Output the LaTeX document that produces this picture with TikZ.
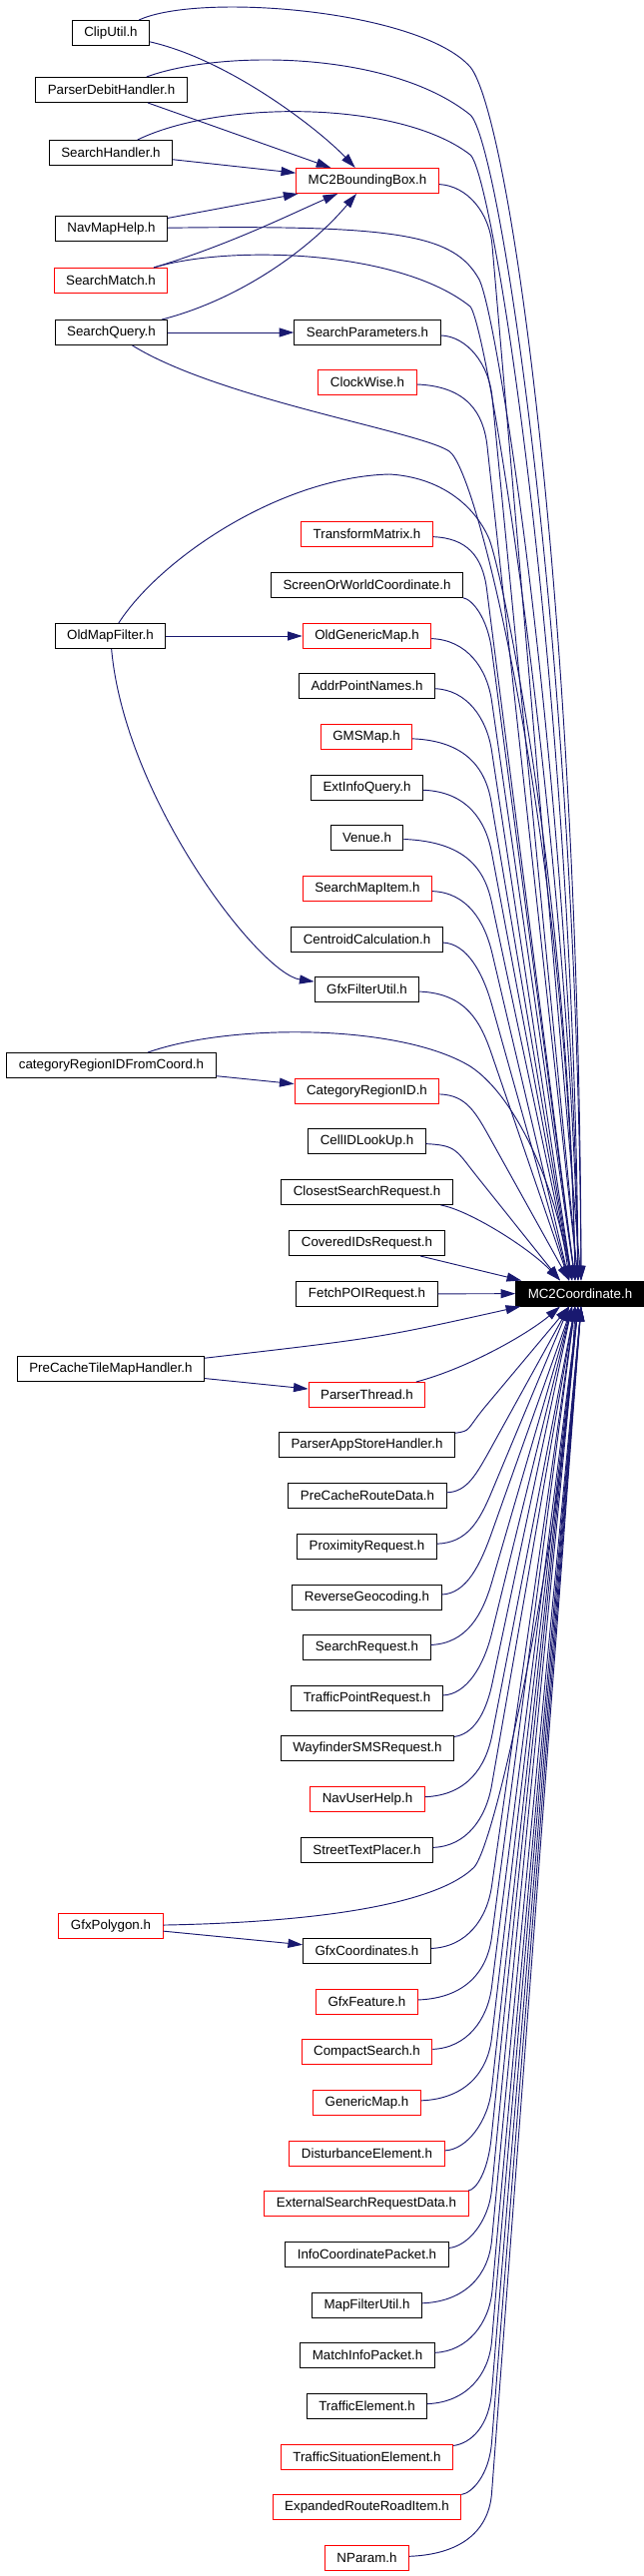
\documentclass[tikz,border=0pt]{standalone}
\usepackage{fontspec}
\setmainfont{Liberation Sans}
\usetikzlibrary{arrows.meta,calc}
\definecolor{navy}{RGB}{25,25,112}
\tikzset{
  box/.style={draw=black, line width=0.75pt, minimum height=18.75pt, inner xsep=9pt, inner ysep=0pt, fill=white, font=\fontsize{10pt}{12pt}\selectfont},
  rbox/.style={box, draw=red},
  kbox/.style={box, fill=black, text=white},
  edge/.style={draw=navy, line width=0.7pt, -{Triangle[length=11pt,width=6.75pt]}},
}
\newcommand\mcedge[6]{%
  \coordinate (#1-b) at ($(#1)+(#5,#6)$);
  \draw[edge] (#1) .. controls ($(#1)+(#3,#4)$) and ($(#1-b)!-25pt!(#2)$) .. (#1-b) -- (#2);
}
\begin{document}
\begin{tikzpicture}[x=0.75pt,y=-0.75pt]
\useasboundingbox (0,0) rectangle (645,2580);
% left column
\node[box]  (clip) at (111,33)   {ClipUtil.h};
\node[box]  (pdh)  at (111.5,90) {ParserDebitHandler.h};
\node[box]  (sh)   at (111,153)  {SearchHandler.h};
\node[box]  (nmh)  at (111.5,229) {NavMapHelp.h};
\node[rbox] (sm)   at (111,281)  {SearchMatch.h};
\node[box]  (sq)   at (111.5,333) {SearchQuery.h};
\node[box]  (omf)  at (110.5,637) {OldMapFilter.h};
\node[box]  (crf)  at (111.5,1067) {categoryRegionIDFromCoord.h};
\node[box]  (pct)  at (111,1371) {PreCacheTileMapHandler.h};
\node[rbox] (gpol) at (111,1929) {GfxPolygon.h};
% middle column
\node[rbox] (mbb)  at (368,181)  {MC2BoundingBox.h};
\node[box]  (spar) at (368,333)  {SearchParameters.h};
\node[rbox] (clw)  at (368,383)  {ClockWise.h};
\node[rbox] (tfm)  at (367.5,535) {TransformMatrix.h};
\node[box]  (sow)  at (367.5,586) {ScreenOrWorldCoordinate.h};
\node[rbox] (ogm)  at (367.5,637) {OldGenericMap.h};
\node[box]  (apn)  at (367.5,687) {AddrPointNames.h};
\node[rbox] (gms)  at (367,738)  {GMSMap.h};
\node[box]  (eiq)  at (367.5,789) {ExtInfoQuery.h};
\node[box]  (ven)  at (367.5,839) {Venue.h};
\node[rbox] (smi)  at (368,890)  {SearchMapItem.h};
\node[box]  (cen)  at (367.5,941) {CentroidCalculation.h};
\node[box]  (gfu)  at (367.5,991) {GfxFilterUtil.h};
\node[rbox] (crid) at (367.5,1093) {CategoryRegionID.h};
\node[box]  (cid)  at (367.5,1143) {CellIDLookUp.h};
\node[box]  (csr)  at (367.5,1194) {ClosestSearchRequest.h};
\node[box]  (cov)  at (367.5,1245) {CoveredIDsRequest.h};
\node[box]  (fpr)  at (367.5,1296) {FetchPOIRequest.h};
\node[rbox] (pth)  at (367.5,1397) {ParserThread.h};
\node[box]  (pas)  at (367.5,1447) {ParserAppStoreHandler.h};
\node[box]  (pcr)  at (368,1498) {PreCacheRouteData.h};
\node[box]  (prx)  at (367.5,1549) {ProximityRequest.h};
\node[box]  (rgc)  at (367.5,1600) {ReverseGeocoding.h};
\node[box]  (srq)  at (367.5,1650) {SearchRequest.h};
\node[box]  (tpr)  at (367.5,1701) {TrafficPointRequest.h};
\node[box]  (wsr)  at (368,1751) {WayfinderSMSRequest.h};
\node[rbox] (nuh)  at (368,1802) {NavUserHelp.h};
\node[box]  (stp)  at (367.5,1853) {StreetTextPlacer.h};
\node[box]  (gco)  at (367.5,1954) {GfxCoordinates.h};
\node[rbox] (gft)  at (367.5,2005) {GfxFeature.h};
\node[rbox] (cps)  at (367.5,2055) {CompactSearch.h};
\node[rbox] (gmp)  at (367.5,2106) {GenericMap.h};
\node[rbox] (dst)  at (367.5,2157) {DisturbanceElement.h};
\node[rbox] (esr)  at (367,2207) {ExternalSearchRequestData.h};
\node[box]  (icp)  at (367.5,2258) {InfoCoordinatePacket.h};
\node[box]  (mfu)  at (367.5,2309) {MapFilterUtil.h};
\node[box]  (mip)  at (368,2359) {MatchInfoPacket.h};
\node[box]  (tel)  at (367.5,2410) {TrafficElement.h};
\node[rbox] (tse)  at (367.5,2461) {TrafficSituationElement.h};
\node[rbox] (err)  at (367.5,2511) {ExpandedRouteRoadItem.h};
\node[rbox] (npa)  at (367.5,2562) {NParam.h};
% target
\node[kbox] (mc) at (581,1295.5) {MC2Coordinate.h};
\coordinate (tA) at ($(mc.north)+(-11,0)$);
\coordinate (tB) at ($(mc.north)+(-8,0)$);
\coordinate (tC) at ($(mc.north)+(-5,0)$);
\coordinate (tD) at ($(mc.north)+(-2,0)$);
\coordinate (tE) at ($(mc.north)+(1,0)$);
\coordinate (tL) at ($(mc.north)+(-20,0)$);
\coordinate (tK) at ($(mc.north west)+(6,0)$);
\coordinate (sA) at ($(mc.south)+(-11,0)$);
\coordinate (sB) at ($(mc.south)+(-8,0)$);
\coordinate (sC) at ($(mc.south)+(-5,0)$);
\coordinate (sD) at ($(mc.south)+(-2,0)$);
\coordinate (sE) at ($(mc.south)+(1,0)$);
\coordinate (sL) at ($(mc.south)+(-20,0)$);
\coordinate (sK) at ($(mc.south west)+(5,0)$);
% left -> middle
\draw[edge] (clip) .. controls (230,60) and (320,130) .. (mbb);
\draw[edge] (pdh) -- (mbb);
\draw[edge] (sh) -- (mbb);
\draw[edge] (nmh) -- (mbb);
\draw[edge] (sm) .. controls (230,245) and (290,215) .. (mbb);
\draw[edge] (sq) .. controls (240,300) and (310,250) .. (mbb);
\draw[edge] (sq) -- (spar);
\draw[edge] (omf) -- (ogm);
\draw[edge] (omf) .. controls (125,800) and (260,975) .. (gfu);
\draw[edge] (crf) -- (crid);
\draw[edge] (pct) -- (pth);
\draw[edge] (gpol) -- (gco);
% left arcs -> MC2Coordinate
\draw[edge] (clip) .. controls (200,-8) and (420,10) .. (471,67) .. controls (510,115) and (580,600) .. (tE);
\draw[edge] (pdh) .. controls (220,50) and (390,50) .. (471,115) .. controls (500,140) and (578,650) .. (tE);
\draw[edge] (sh) .. controls (220,100) and (400,100) .. (471,155) .. controls (495,175) and (575,700) .. (tD);
\draw[edge] (nmh) .. controls (400,225) and (455,235) .. (480,280) .. controls (500,320) and (572,800) .. (tD);
\draw[edge] (sm) .. controls (230,245) and (400,250) .. (471,307) .. controls (490,330) and (570,850) .. (tD);
\draw[edge] (sq) .. controls (220,400) and (420,432) .. (450,452) .. controls (480,472) and (568,850) .. (tC);
\draw[edge] (omf) .. controls (160,560) and (280,478) .. (390,475) .. controls (440,478) and (475,505) .. (490,540) .. controls (505,580) and (570,900) .. (tC);
\draw[edge] (crf) .. controls (230,1025) and (400,1025) .. (471,1068) .. controls (520,1100) and (560,1200) .. (tA);
\draw[edge] (pct) .. controls (380,1340) .. (sK);
\draw[edge] (gpol) .. controls (330,1925) and (440,1905) .. (475,1870) .. controls (500,1840) and (568,1500) .. (sC);
% middle -> MC2Coordinate (above)
\mcedge{mbb}{tE}{100}{5}{125}{65}
\mcedge{spar}{tD}{100}{4}{125}{65}
\mcedge{clw}{tD}{100}{4}{120}{64}
\mcedge{tfm}{tC}{100}{4}{120}{55}
\mcedge{sow}{tC}{105}{14}{125}{65}
\mcedge{ogm}{tC}{100}{4}{125}{65}
\mcedge{apn}{tB}{100}{4}{125}{65}
\mcedge{gms}{tB}{100}{4}{125}{65}
\mcedge{eiq}{tB}{100}{4}{125}{65}
\mcedge{ven}{tB}{100}{4}{125}{65}
\mcedge{smi}{tA}{100}{4}{125}{65}
\mcedge{cen}{tA}{100}{4}{125}{65}
\mcedge{gfu}{tA}{100}{4}{125}{65}
\mcedge{crid}{tA}{100}{4}{125}{50}
\mcedge{cid}{tL}{90}{4}{110}{35}
\draw[edge] (csr) .. controls (470,1212) and (530,1250) .. (tL);
\draw[edge] (cov) -- (tK);
\draw[edge] (fpr) -- (mc);
% middle -> MC2Coordinate (below)
\draw[edge] (pth) .. controls (470,1370) and (530,1335) .. (sL);
\mcedge{pas}{sA}{105}{-14}{120}{-40}
\mcedge{pcr}{sA}{100}{-4}{125}{-50}
\mcedge{prx}{sA}{100}{-4}{125}{-55}
\mcedge{rgc}{sB}{100}{-4}{125}{-65}
\mcedge{srq}{sB}{100}{-4}{125}{-65}
\mcedge{tpr}{sB}{100}{-4}{125}{-65}
\mcedge{wsr}{sB}{105}{-14}{125}{-65}
\mcedge{nuh}{sC}{100}{-4}{125}{-65}
\mcedge{stp}{sC}{100}{-4}{125}{-65}
\mcedge{gco}{sC}{100}{-4}{125}{-65}
\mcedge{gft}{sC}{100}{-4}{125}{-65}
\mcedge{cps}{sD}{100}{-4}{125}{-65}
\mcedge{gmp}{sD}{100}{-4}{125}{-65}
\mcedge{dst}{sD}{100}{-4}{125}{-65}
\mcedge{esr}{sD}{110}{-14}{125}{-65}
\mcedge{icp}{sD}{100}{-8}{125}{-65}
\mcedge{mfu}{sE}{100}{-4}{125}{-65}
\mcedge{mip}{sE}{100}{-4}{125}{-65}
\mcedge{tel}{sE}{100}{-4}{125}{-65}
\mcedge{tse}{sE}{105}{-14}{125}{-65}
\mcedge{err}{sE}{105}{-14}{125}{-65}
\mcedge{npa}{sE}{100}{-4}{125}{-65}
\end{tikzpicture}
\end{document}
